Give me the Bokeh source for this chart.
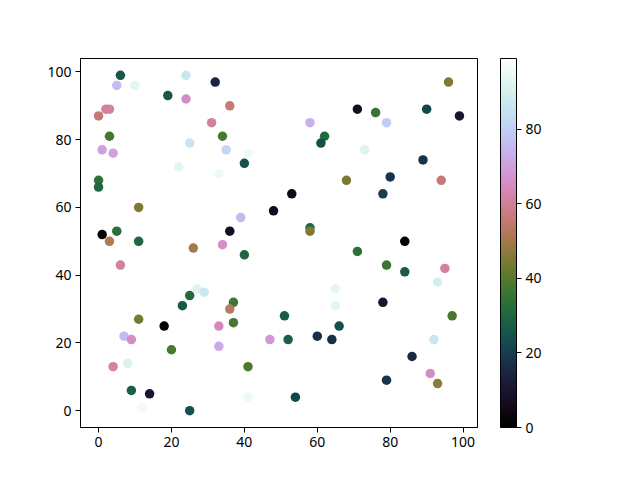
import math
from bokeh.plotting import figure
from bokeh.models import ColumnDataSource, LinearColorMapper, ColorBar, FixedTicker, Range1d
from bokeh.embed import file_html
from bokeh.resources import INLINE

xs = [6, 5, 10, 24, 32, 19, 24, 36, 2, 3, 0, 31, 3, 34, 25, 1, 4, 35, 41, 40,
      22, 33, 0, 0, 11, 39, 48, 1, 5, 36, 3, 11, 26, 34, 96, 71, 76, 90, 99, 58,
      79, 62, 61, 73, 89, 68, 80, 94, 53, 78, 58, 58, 84, 71, 40, 6, 27, 29, 25, 23,
      37, 36, 37, 11, 18, 33, 7, 9, 47, 20, 33, 4, 8, 41, 9, 14, 12, 41, 47, 25,
      79, 84, 95, 93, 65, 65, 78, 97, 51, 66, 52, 60, 64, 92, 86, 91, 93, 79, 54]
ys = [99, 96, 96, 99, 97, 93, 92, 90, 89, 89, 87, 85, 81, 81, 79, 77, 76, 77, 76, 73,
      72, 70, 68, 66, 60, 57, 59, 52, 53, 53, 50, 50, 48, 49, 97, 89, 88, 89, 87, 85,
      85, 81, 79, 77, 74, 68, 69, 68, 64, 64, 54, 53, 50, 47, 46, 43, 36, 35, 34, 31,
      32, 30, 26, 27, 25, 25, 22, 21, 21, 18, 19, 13, 14, 13, 6, 5, 1, 4, 3, 0,
      43, 41, 42, 38, 36, 31, 32, 28, 28, 25, 21, 22, 21, 21, 16, 11, 8, 9, 4]
cs = [26, 76, 93, 86, 14, 26, 65, 56, 61, 61, 56, 61, 37, 38, 86, 70, 70, 82, 95, 25,
      93, 95, 34, 30, 45, 76, 6, 1, 33, 7, 52, 30, 50, 66, 45, 7, 35, 22, 10, 74,
      80, 31, 24, 92, 18, 45, 18, 56, 5, 20, 30, 45, 1, 33, 30, 61, 92, 87, 31, 27,
      36, 53, 38, 44, 0, 64, 76, 65, 68, 38, 72, 61, 91, 39, 28, 10, 96, 95, 99, 24,
      36, 27, 61, 89, 93, 93, 10, 38, 27, 24, 28, 17, 17, 86, 15, 65, 47, 18, 22]


def cubehelix_palette(n, s=0.5, r=-1.5, h=1.0):
    out = []
    for i in range(n):
        t = i / (n - 1)
        a = h * t * (1 - t) / 2
        phi = 2 * math.pi * (s / 3 + r * t)
        R = t + a * (-0.14861 * math.cos(phi) + 1.78277 * math.sin(phi))
        G = t + a * (-0.29227 * math.cos(phi) - 0.90649 * math.sin(phi))
        B = t + a * (1.97294 * math.cos(phi))
        cl = [max(0, min(255, round(v * 255))) for v in (R, G, B)]
        out.append("#%02x%02x%02x" % tuple(cl))
    return out


palette = cubehelix_palette(256)
mapper = LinearColorMapper(palette=palette, low=min(cs), high=max(cs))

src = ColumnDataSource(dict(x=xs, y=ys, c=cs))

FONT = "Noto Sans"
FS = "14px"

p = figure(width=624, height=464, output_backend="svg", toolbar_location=None,
           x_range=Range1d(-4.95, 103.95), y_range=Range1d(-4.95, 103.95),
           min_border_left=80, min_border_top=58, min_border_bottom=37, min_border_right=147)
p.frame_width = 397
p.frame_height = 369
p.xgrid.visible = False
p.ygrid.visible = False
p.outline_line_color = "black"
p.outline_line_width = 1

for ax in (p.xaxis[0], p.yaxis[0]):
    ax.ticker = FixedTicker(ticks=[0, 20, 40, 60, 80, 100])
    ax.minor_tick_line_color = None
    ax.major_tick_in = 0
    ax.major_tick_out = 5
    ax.major_tick_line_color = "black"
    ax.axis_line_color = "black"
    ax.major_label_text_font = FONT
    ax.major_label_text_font_size = FS
    ax.major_label_text_color = "black"
    ax.major_label_standoff = 4

p.scatter("x", "y", source=src, size=9.5,
          fill_color={"field": "c", "transform": mapper}, line_color=None)

cb = ColorBar(color_mapper=mapper, ticker=FixedTicker(ticks=[0, 20, 40, 60, 80]),
              width=16, height=369, margin=0, padding=0, location=(23, 0),
              major_tick_in=0, major_tick_out=5, major_tick_line_color="black",
              minor_tick_line_color=None, bar_line_color="black",
              major_label_text_font=FONT, major_label_text_font_size=FS,
              major_label_text_color="black", label_standoff=4,
              border_line_color=None, background_fill_color=None)
p.add_layout(cb, "right")

open("out.html", "w").write(file_html(p, INLINE))
